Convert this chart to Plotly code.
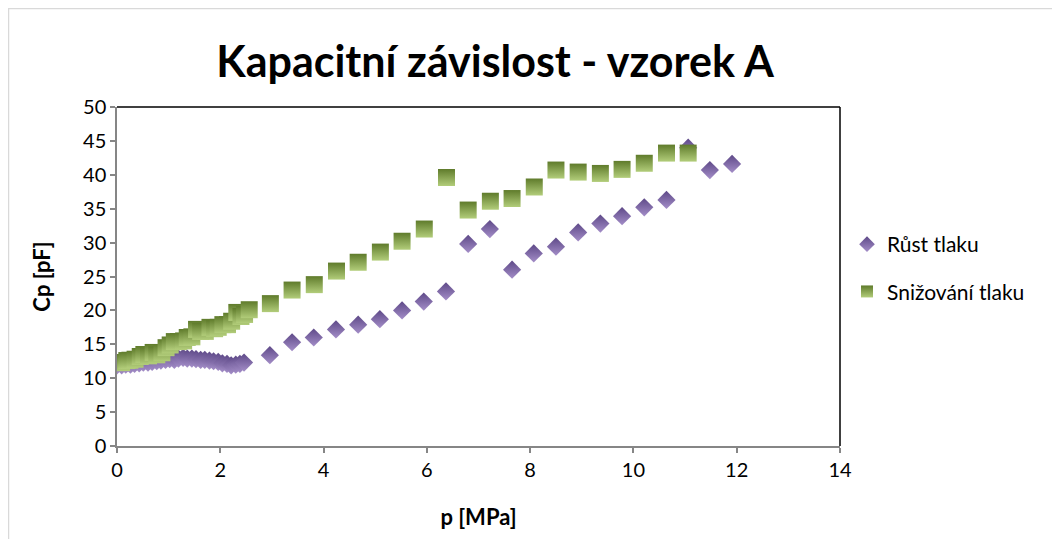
import plotly.graph_objects as go

# Růst tlaku (rising pressure)
rust_p = [0.00, 0.09, 0.17, 0.26, 0.34, 0.43, 0.51, 0.60, 0.68, 0.77, 0.85, 0.94,
          1.02, 1.11, 1.19, 1.28, 1.36, 1.45, 1.53, 1.62, 1.70, 1.79, 1.87, 1.96,
          2.04, 2.13, 2.21, 2.30, 2.38, 2.46, 2.96, 3.39, 3.81, 4.24, 4.67, 5.09,
          5.52, 5.94, 6.37, 6.80, 7.22, 7.65, 8.07, 8.50, 8.93, 9.36, 9.78, 10.21,
          10.64, 11.06, 11.48, 11.91]
rust_cp = [11.9, 11.9, 12.0, 12.0, 12.1, 12.2, 12.3, 12.3, 12.4, 12.5, 12.6, 12.7,
           12.8, 12.7, 12.9, 13.0, 12.9, 12.9, 12.8, 12.7, 12.7, 12.6, 12.5, 12.4,
           12.2, 12.1, 11.9, 12.0, 12.1, 12.3, 13.4, 15.3, 16.0, 17.2, 17.9, 18.7,
           20.0, 21.3, 22.8, 29.8, 32.0, 26.0, 28.4, 29.4, 31.5, 32.8, 33.9, 35.2,
           36.3, 44.0, 40.7, 41.6]

# Snižování tlaku (decreasing pressure)
sniz_p = [0.00, 0.09, 0.19, 0.25, 0.35, 0.45, 0.52, 0.61, 0.70, 0.77, 0.87, 0.95,
          1.03, 1.11, 1.19, 1.29, 1.36, 1.45, 1.54, 1.62, 1.71, 1.80, 1.89, 1.96,
          2.05, 2.14, 2.22, 2.32, 2.40, 2.47, 2.56, 2.97, 3.39, 3.82, 4.25, 4.67,
          5.10, 5.52, 5.95, 6.38, 6.80, 7.23, 7.65, 8.08, 8.50, 8.93, 9.36, 9.78,
          10.21, 10.64, 11.06]
sniz_cp = [12.3, 12.3, 12.6, 12.65, 12.8, 13.2, 13.5, 13.3, 13.8, 13.45, 13.75, 14.5,
           14.9, 15.4, 15.4, 15.5, 16.0, 16.1, 17.2, 16.9, 16.9, 17.5, 17.3, 17.5,
           17.9, 17.9, 18.4, 19.7, 19.1, 19.4, 20.1, 21.0, 23.0, 23.8, 25.8, 27.1,
           28.6, 30.2, 32.0, 39.6, 34.8, 36.1, 36.5, 38.2, 40.7, 40.4, 40.2, 40.8,
           41.7, 43.2, 43.2]

FONT = "Lato"
OFF = 8  # page body margin
W, H = 1060 - OFF, 539 - OFF
L, T = 117 - OFF, 107 - OFF
R = W - (840 - OFF)
B = H - (446 - OFF)
pw = W - L - R
ph = H - T - B


def px_x(x):
    return (x - OFF - L) / pw


def px_y(y):
    return (446 - y) / ph


fig = go.Figure()
fig.add_trace(go.Scatter(
    x=rust_p, y=rust_cp, mode="markers", name="Růst tlaku", legendgroup="a",
    marker=dict(symbol="diamond", size=14, color="#5e4988",
                gradient=dict(type="vertical", color="#a48ec8"), line=dict(width=0)),
))
fig.add_trace(go.Scatter(
    x=sniz_p, y=sniz_cp, mode="markers", name="Snižování tlaku", legendgroup="b",
    marker=dict(symbol="square", size=17, color="#5f7b2b",
                gradient=dict(type="vertical", color="#b2cd7a"), line=dict(width=0)),
))

axis_common = dict(
    showgrid=False, zeroline=False, showline=True, linecolor="#868686", linewidth=1.5,
    ticks="outside", ticklen=5, tickcolor="#868686", tickwidth=1.5,
    tickfont=dict(family=FONT, size=20, color="#000000"),
)

fig.update_layout(
    width=W, height=H,
    margin=dict(l=L, r=R, t=T, b=B),
    paper_bgcolor="white", plot_bgcolor="white",
    title=dict(text="<b>Kapacitní závislost - vzorek A</b>",
               font=dict(family=FONT, size=43, color="#000000"),
               x=px_x(495), xref="paper", xanchor="center",
               y=1 - (62 - OFF) / H, yref="container", yanchor="middle"),
    xaxis=dict(range=[0, 14], dtick=2, tick0=0,
               title=dict(text="<b>p [MPa]</b>", font=dict(family=FONT, size=22, color="#000000"),
                          standoff=30),
               **axis_common),
    yaxis=dict(range=[0, 50], dtick=5, tick0=0,
               title=dict(text="<b>Cp [pF]</b>", font=dict(family=FONT, size=22, color="#000000"),
                          standoff=26),
               **axis_common),
    showlegend=True,
    legend=dict(x=px_x(847), y=px_y(224), xanchor="left", yanchor="top",
                font=dict(family=FONT, size=21, color="#000000"),
                traceorder="grouped", tracegroupgap=17, itemsizing="constant",
                bgcolor="rgba(0,0,0,0)"),
    shapes=[
        # plot area border top and right
        dict(type="line", xref="paper", yref="paper", x0=0, x1=1, y0=1, y1=1,
             line=dict(color="#000000", width=1.5)),
        dict(type="line", xref="paper", yref="paper", x0=1, x1=1, y0=0, y1=1,
             line=dict(color="#000000", width=1.5)),
        # outer chart frame
        dict(type="rect", xref="paper", yref="paper",
             x0=px_x(8.5), x1=px_x(1080), y0=px_y(560), y1=px_y(8.5),
             line=dict(color="#d9d9d9", width=1.5)),
    ],
)

fig.write_html("out.html")
